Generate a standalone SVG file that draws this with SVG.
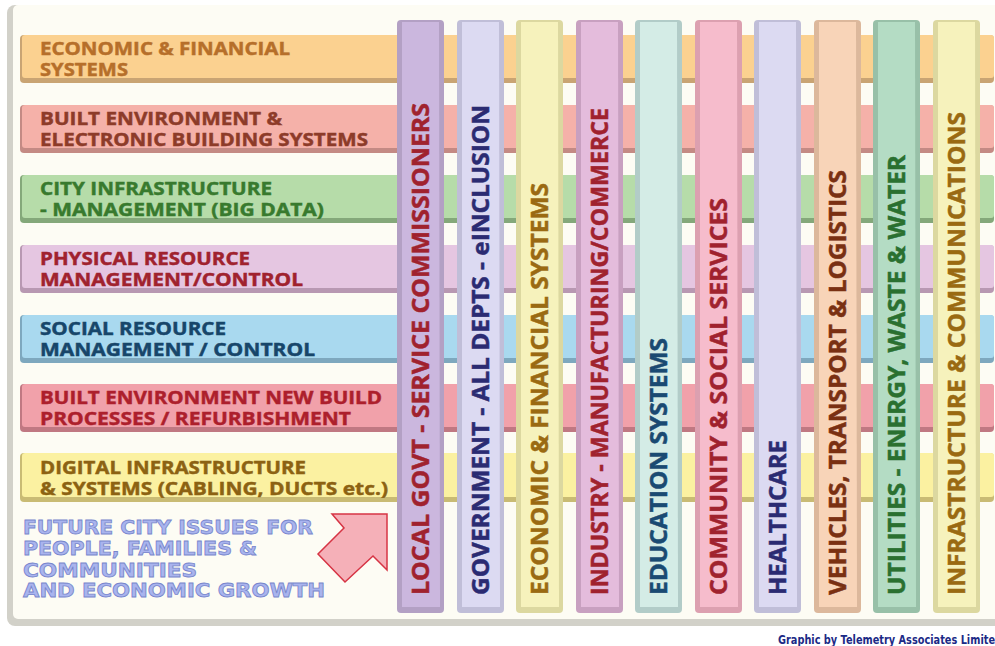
<svg xmlns="http://www.w3.org/2000/svg" width="995" height="646" viewBox="0 0 995 646">
<defs>
<style>
.bt{font-family:"Open Sans","Liberation Sans",sans-serif;font-weight:700;font-size:18px;stroke-width:0.45}
.ct{font-family:"Open Sans","Liberation Sans",sans-serif;font-weight:700;font-size:24px;stroke-width:0.5}
.ft{font-family:"DejaVu Sans","Liberation Sans",sans-serif;font-weight:700;font-size:19px;fill:#a9b4ee;stroke:#7886cc;stroke-width:0.8}
.cr{font-family:"DejaVu Sans","Liberation Sans",sans-serif;font-weight:700;font-size:11.5px;fill:#1c2a86}
</style>
</defs>
<rect x="0" y="0" width="995" height="646" fill="#ffffff"/>
<g id="panel">
<rect x="7" y="5" width="1000" height="621" rx="8" fill="#d2d1c9"/>
<rect x="13" y="5" width="994" height="614" rx="5" fill="#fdfcf4"/>
</g>
<g id="rows">
<g id="row1">
<rect x="20" y="35" width="974" height="48" rx="4" fill="#c9a473"/>
<rect x="22" y="35" width="972" height="43" rx="3" fill="#fbd190"/>
<text class="bt" fill="#b66f2a" stroke="#b66f2a" x="40" y="55" textLength="250" lengthAdjust="spacingAndGlyphs">ECONOMIC &amp; FINANCIAL</text>
<text class="bt" fill="#b66f2a" stroke="#b66f2a" x="40" y="76" textLength="88" lengthAdjust="spacingAndGlyphs">SYSTEMS</text>
</g>
<g id="row2">
<rect x="20" y="105" width="974" height="48" rx="4" fill="#c48a84"/>
<rect x="22" y="105" width="972" height="43" rx="3" fill="#f5b1a9"/>
<text class="bt" fill="#8d3b29" stroke="#8d3b29" x="40" y="125" textLength="242" lengthAdjust="spacingAndGlyphs">BUILT ENVIRONMENT &amp;</text>
<text class="bt" fill="#8d3b29" stroke="#8d3b29" x="40" y="146" textLength="328" lengthAdjust="spacingAndGlyphs">ELECTRONIC BUILDING SYSTEMS</text>
</g>
<g id="row3">
<rect x="20" y="175" width="974" height="48" rx="4" fill="#84a87a"/>
<rect x="22" y="175" width="972" height="43" rx="3" fill="#b6dca9"/>
<text class="bt" fill="#387a2e" stroke="#387a2e" x="40" y="195" textLength="232" lengthAdjust="spacingAndGlyphs">CITY INFRASTRUCTURE</text>
<text class="bt" fill="#387a2e" stroke="#387a2e" x="40" y="216" textLength="284" lengthAdjust="spacingAndGlyphs">- MANAGEMENT (BIG DATA)</text>
</g>
<g id="row4">
<rect x="20" y="245" width="974" height="48" rx="4" fill="#b898b2"/>
<rect x="22" y="245" width="972" height="43" rx="3" fill="#e5c6e1"/>
<text class="bt" fill="#a0222e" stroke="#a0222e" x="40" y="265" textLength="210" lengthAdjust="spacingAndGlyphs">PHYSICAL RESOURCE</text>
<text class="bt" fill="#a0222e" stroke="#a0222e" x="40" y="286" textLength="263" lengthAdjust="spacingAndGlyphs">MANAGEMENT/CONTROL</text>
</g>
<g id="row5">
<rect x="20" y="315" width="974" height="48" rx="4" fill="#7ea8be"/>
<rect x="22" y="315" width="972" height="43" rx="3" fill="#a9d9ef"/>
<text class="bt" fill="#17466a" stroke="#17466a" x="40" y="335" textLength="186" lengthAdjust="spacingAndGlyphs">SOCIAL RESOURCE</text>
<text class="bt" fill="#17466a" stroke="#17466a" x="40" y="356" textLength="275" lengthAdjust="spacingAndGlyphs">MANAGEMENT / CONTROL</text>
</g>
<g id="row6">
<rect x="20" y="384" width="974" height="48" rx="4" fill="#c07882"/>
<rect x="22" y="384" width="972" height="43" rx="3" fill="#f1a1aa"/>
<text class="bt" fill="#ad1f2c" stroke="#ad1f2c" x="40" y="404" textLength="342" lengthAdjust="spacingAndGlyphs">BUILT ENVIRONMENT NEW BUILD</text>
<text class="bt" fill="#ad1f2c" stroke="#ad1f2c" x="40" y="425" textLength="311" lengthAdjust="spacingAndGlyphs">PROCESSES / REFURBISHMENT</text>
</g>
<g id="row7">
<rect x="20" y="453" width="974" height="49" rx="4" fill="#c9bb74"/>
<rect x="22" y="453" width="972" height="44" rx="3" fill="#fbf1a1"/>
<text class="bt" fill="#8c6212" stroke="#8c6212" x="40" y="474" textLength="266" lengthAdjust="spacingAndGlyphs">DIGITAL INFRASTRUCTURE</text>
<text class="bt" fill="#8c6212" stroke="#8c6212" x="40" y="495" textLength="348" lengthAdjust="spacingAndGlyphs">&amp; SYSTEMS (CABLING, DUCTS etc.)</text>
</g>
</g>
<g id="footer-text">
<text class="ft" x="23" y="534" textLength="290" lengthAdjust="spacingAndGlyphs">FUTURE CITY ISSUES FOR</text>
<text class="ft" x="23" y="555" textLength="234" lengthAdjust="spacingAndGlyphs">PEOPLE, FAMILIES &amp;</text>
<text class="ft" x="23" y="577" textLength="174" lengthAdjust="spacingAndGlyphs">COMMUNITIES</text>
<text class="ft" x="23" y="597" textLength="302" lengthAdjust="spacingAndGlyphs">AND ECONOMIC GROWTH</text>
</g>
<g id="arrow">
<polygon points="332,514 387,514 387,570 373,556 345,582 318,554 344,528" fill="#f5b0b8" stroke="#d63444" stroke-width="1.5" stroke-linejoin="miter"/>
</g>
<g id="columns">
<g id="col1">
<rect x="397" y="20" width="47" height="593" rx="4" fill="#b3a0c4"/>
<polygon points="402,22 439,22 440,607 402,607" fill="#cbb7de"/>
<text class="ct" fill="#a0222e" stroke="#a0222e" transform="translate(429,595) rotate(-90)" textLength="492" lengthAdjust="spacingAndGlyphs">LOCAL GOVT - SERVICE COMMISSIONERS</text>
</g>
<g id="col2">
<rect x="457" y="20" width="47" height="593" rx="4" fill="#c0bed8"/>
<polygon points="462,22 499,22 500,607 462,607" fill="#dcdaf2"/>
<text class="ct" fill="#2b2b72" stroke="#2b2b72" transform="translate(489,595) rotate(-90)" textLength="490" lengthAdjust="spacingAndGlyphs">GOVERNMENT - ALL DEPTS - eINCLUSION</text>
</g>
<g id="col3">
<rect x="516" y="20" width="47" height="593" rx="4" fill="#dcd8a0"/>
<polygon points="521,22 558,22 559,607 521,607" fill="#f6f2bc"/>
<text class="ct" fill="#9a6a12" stroke="#9a6a12" transform="translate(548,595) rotate(-90)" textLength="412" lengthAdjust="spacingAndGlyphs">ECONOMIC &amp; FINANCIAL SYSTEMS</text>
</g>
<g id="col4">
<rect x="576" y="20" width="47" height="593" rx="4" fill="#c8a0c0"/>
<polygon points="581,22 618,22 619,607 581,607" fill="#e4bcdc"/>
<text class="ct" fill="#a0222e" stroke="#a0222e" transform="translate(608,595) rotate(-90)" textLength="487" lengthAdjust="spacingAndGlyphs">INDUSTRY - MANUFACTURING/COMMERCE</text>
</g>
<g id="col5">
<rect x="635" y="20" width="47" height="593" rx="4" fill="#b2ccc8"/>
<polygon points="640,22 677,22 678,607 640,607" fill="#d4ece6"/>
<text class="ct" fill="#1a4a72" stroke="#1a4a72" transform="translate(667,595) rotate(-90)" textLength="257" lengthAdjust="spacingAndGlyphs">EDUCATION SYSTEMS</text>
</g>
<g id="col6">
<rect x="695" y="20" width="47" height="593" rx="4" fill="#dca0b0"/>
<polygon points="700,22 737,22 738,607 700,607" fill="#f6bccc"/>
<text class="ct" fill="#a0222e" stroke="#a0222e" transform="translate(727,595) rotate(-90)" textLength="397" lengthAdjust="spacingAndGlyphs">COMMUNITY &amp; SOCIAL SERVICES</text>
</g>
<g id="col7">
<rect x="754" y="20" width="47" height="593" rx="4" fill="#c0bed8"/>
<polygon points="759,22 796,22 797,607 759,607" fill="#dcdaf2"/>
<text class="ct" fill="#2b2b72" stroke="#2b2b72" transform="translate(786,595) rotate(-90)" textLength="155" lengthAdjust="spacingAndGlyphs">HEALTHCARE</text>
</g>
<g id="col8">
<rect x="814" y="20" width="47" height="593" rx="4" fill="#dcb89c"/>
<polygon points="819,22 856,22 857,607 819,607" fill="#f8d4b8"/>
<text class="ct" fill="#7a3012" stroke="#7a3012" transform="translate(846,595) rotate(-90)" textLength="425" lengthAdjust="spacingAndGlyphs">VEHICLES, TRANSPORT &amp; LOGISTICS</text>
</g>
<g id="col9">
<rect x="873" y="20" width="47" height="593" rx="4" fill="#98c0a8"/>
<polygon points="878,22 915,22 916,607 878,607" fill="#b4dcc4"/>
<text class="ct" fill="#2a7030" stroke="#2a7030" transform="translate(905,595) rotate(-90)" textLength="440" lengthAdjust="spacingAndGlyphs">UTILITIES - ENERGY, WASTE &amp; WATER</text>
</g>
<g id="col10">
<rect x="933" y="20" width="47" height="593" rx="4" fill="#dcd8a0"/>
<polygon points="938,22 975,22 976,607 938,607" fill="#f6f2bc"/>
<text class="ct" fill="#9a6a12" stroke="#9a6a12" transform="translate(965,595) rotate(-90)" textLength="483" lengthAdjust="spacingAndGlyphs">INFRASTRUCTURE &amp; COMMUNICATIONS</text>
</g>
</g>
<text class="cr" x="778" y="644" textLength="224" lengthAdjust="spacingAndGlyphs">Graphic by Telemetry Associates Limited</text>
</svg>
